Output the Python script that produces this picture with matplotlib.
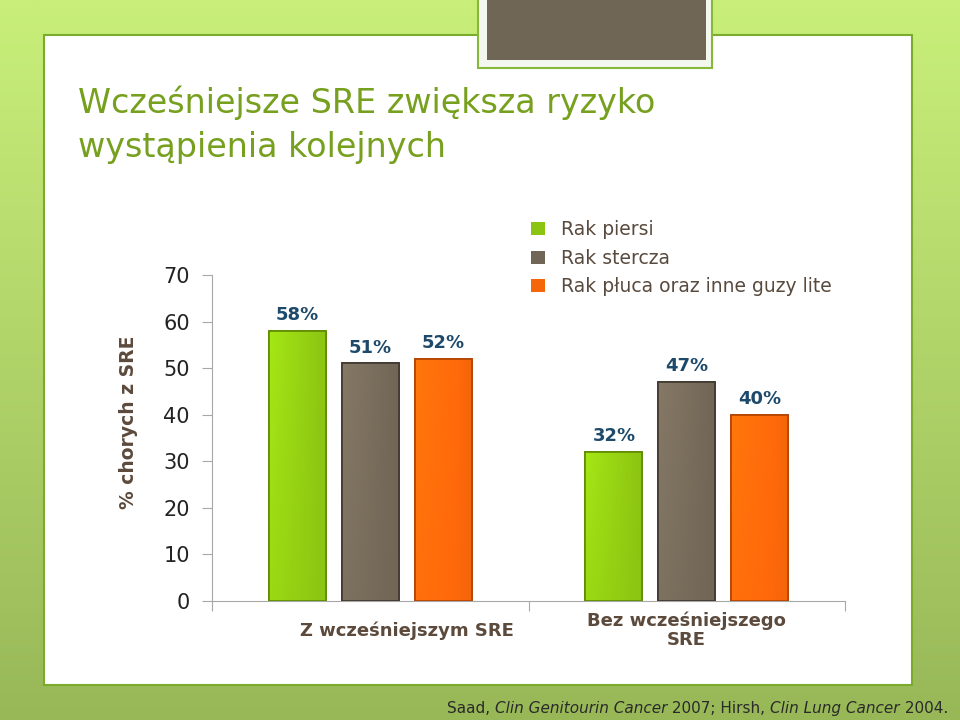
import numpy as np
import matplotlib
matplotlib.use("Agg")
import matplotlib.pyplot as plt
from matplotlib.patches import Rectangle
from matplotlib.text import Annotation
from matplotlib.colors import to_rgb

# Dane wykresu
kategorie = ["Z wcześniejszym SRE", "Bez wcześniejszego\nSRE"]
serie = ["Rak piersi", "Rak stercza", "Rak płuca oraz inne guzy lite"]
wartosci = {
    "Rak piersi": [58, 32],
    "Rak stercza": [51, 47],
    "Rak płuca oraz inne guzy lite": [52, 40],
}
kolory = ["#8cc412", "#716656", "#f5650a"]
krawedzie = ["#5f8a00", "#3f382f", "#b24300"]
yticks = [0, 10, 20, 30, 40, 50, 60, 70]

tytul = "Wcześniejsze SRE zwiększa ryzyko\nwystąpienia kolejnych"
brazowy = "#5c4a3c"

fig = plt.figure(figsize=(9.6, 7.2), dpi=100)

# tło slajdu - zielony gradient
bg = fig.add_axes([0, 0, 1, 1], zorder=-5)
g = np.linspace(0, 1, 256)[:, None]
top = np.array(to_rgb("#c9ef7a"))
bot = np.array(to_rgb("#98b858"))
img = top[None, None, :] * (1 - g[..., None]) + bot[None, None, :] * g[..., None]
bg.imshow(img, aspect="auto", extent=[0, 1, 0, 1])
bg.set_xlim(0, 1)
bg.set_ylim(0, 1)
bg.axis("off")

def px(x0, y0, x1, y1):
    # prostokat w pikselach (od gory) -> wspolrzedne figury
    return (x0 / 960, 1 - y1 / 720), (x1 - x0) / 960, (y1 - y0) / 720

# biały panel
xy, w, h = px(44, 35, 912, 685)
bg.add_patch(Rectangle(xy, w, h, facecolor="white", edgecolor="#7aab2c", lw=1.5))
# szara ramka u gory
xy, w, h = px(478, -5, 712, 68)
bg.add_patch(Rectangle(xy, w, h, facecolor="#f4f7ee", edgecolor="#86b83a", lw=1.5))
xy, w, h = px(487, -5, 706, 60)
bg.add_patch(Rectangle(xy, w, h, facecolor="#706656", edgecolor="none"))

fig.text(78 / 960, 1 - 86 / 720, tytul, fontsize=24, color="#76a01e",
         va="top", ha="left", linespacing=1.4, family="DejaVu Sans")

# wykres
ax = fig.add_axes([212 / 960, 1 - 601 / 720, 633 / 960, 326 / 720])
ax.set_facecolor("none")
x = np.arange(len(kategorie))
szer = 0.18
krok = 0.23

for i, s in enumerate(serie):
    pos = x + (i - 1) * krok
    bars = ax.bar(pos, wartosci[s], width=szer, color=kolory[i],
                  edgecolor=krawedzie[i], linewidth=1.2, label=s, zorder=3)
    base = np.array(to_rgb(kolory[i]))
    xs = np.linspace(0, 1, 64)[None, :]
    ys = np.linspace(0, 1, 64)[:, None]
    f = 1 + 0.18 * (1 - xs) * (0.6 + 0.4 * ys)
    grad = np.clip(base[None, None, :] * f[..., None], 0, 1)
    for b in bars:
        bx, by, bw, bh = b.get_x(), b.get_y(), b.get_width(), b.get_height()
        im = ax.imshow(grad, extent=[bx, bx + bw, by, by + bh], aspect="auto",
                       origin="lower", zorder=3.5, clip_on=True)
        im.set_clip_path(b)
        ax.add_patch(Rectangle((bx, by), bw, bh, facecolor="none",
                               edgecolor=krawedzie[i], lw=1.2, zorder=4))
        ax.annotate(f"{b.get_height():.0f}%", (bx + bw / 2, by + bh),
                    xytext=(0, 5), textcoords="offset points", ha="center",
                    va="bottom", fontsize=13, fontweight="bold", color="#1d4a6b")

ax.set_xlim(-0.5, 1.5)
ax.set_ylim(0, 70)
ax.set_yticks(yticks)
ax.tick_params(axis="y", direction="out", length=7, color="#a8a8a8",
               labelsize=15, labelcolor="#222222", pad=9)
ax.set_xticks([-0.5, 0.5, 1.5])
ax.set_xticklabels([])
ax.tick_params(axis="x", direction="out", length=7, color="#a8a8a8")
for sp in ["top", "right"]:
    ax.spines[sp].set_visible(False)
for sp in ["left", "bottom"]:
    ax.spines[sp].set_color("#a8a8a8")

ax.text(0.117, -0.09, kategorie[0], transform=ax.get_xaxis_transform(),
        ha="center", va="center", fontsize=13, fontweight="bold", color=brazowy)
ax.text(1.0, -0.09, kategorie[1], transform=ax.get_xaxis_transform(),
        ha="center", va="center", fontsize=13, fontweight="bold", color=brazowy,
        linespacing=1.1)

fig.text(128 / 960, 1 - 422 / 720, "% chorych z SRE", rotation=90, ha="center",
         va="center", fontsize=13.5, fontweight="bold", color=brazowy)

leg = fig.legend(loc="upper left", bbox_to_anchor=(522 / 960, 1 - 211 / 720),
                 frameon=False, fontsize=13.5, handlelength=0.7, handleheight=0.7,
                 handletextpad=0.9, labelspacing=0.5, borderpad=0)
for t in leg.get_texts():
    t.set_color("#594a3e")
for hnd in leg.legend_handles:
    hnd.set_edgecolor("none")

# przypis z kursywa
czesci = [("Saad, ", "normal"), ("Clin Genitourin Cancer", "italic"),
          (" 2007; Hirsh, ", "normal"), ("Clin Lung Cancer", "italic"),
          (" 2004.", "normal")]
prev = fig.text(447 / 960, 1 - 716 / 720, czesci[0][0], fontsize=11,
                color="#2a2a2a", va="bottom", ha="left")
for txt, st in czesci[1:]:
    prev = fig.add_artist(Annotation(txt, xy=(1, 0), xycoords=prev, va="bottom",
                                     ha="left", fontsize=11, color="#2a2a2a",
                                     fontstyle=st))

fig.savefig("out.png", dpi=100)
